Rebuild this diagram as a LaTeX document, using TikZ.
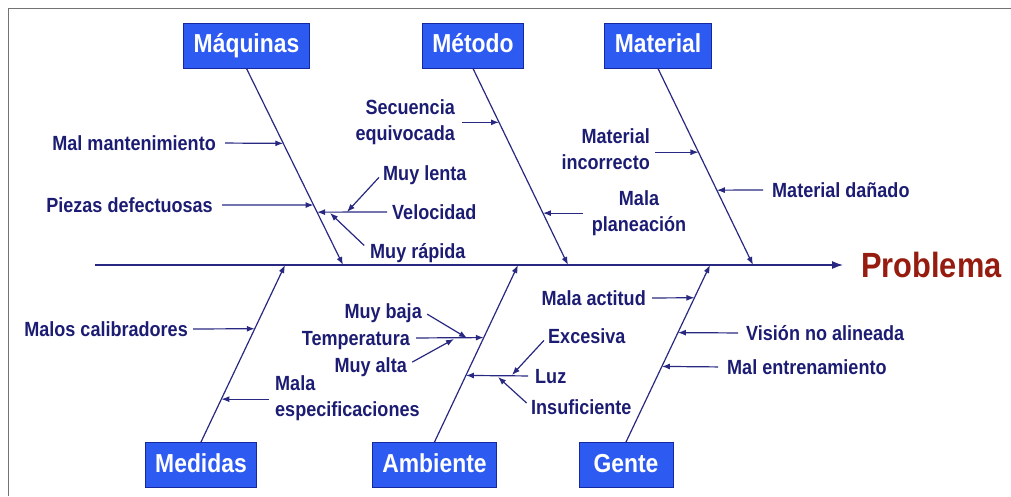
\documentclass[tikz,border=0pt]{standalone}
\usepackage{fontspec}
\setmainfont{Liberation Sans}[FakeStretch=0.88]
\usetikzlibrary{arrows.meta}
\definecolor{navy}{RGB}{28,28,115}
\definecolor{linec}{RGB}{40,40,130}
\definecolor{boxblue}{RGB}{45,90,240}
\definecolor{boxline}{RGB}{20,40,160}
\definecolor{probred}{RGB}{150,28,15}
\definecolor{framec}{RGB}{115,115,115}
\begin{document}
\begin{tikzpicture}[x=1pt,y=-1pt,
  catbox/.style={draw=boxline, fill=boxblue, text=white, line width=1pt,
    font=\bfseries\fontsize{26}{30}\selectfont, inner xsep=10pt, inner ysep=0pt,
    text height=19pt, text depth=5pt, minimum height=45pt},
  lab/.style={text=navy, inner sep=0pt, font=\bfseries\fontsize{20.5}{26.5}\selectfont,
    text height=14pt, text depth=0pt},
  mlab/.style={text=navy, inner sep=0pt, font=\bfseries\fontsize{20.5}{26.5}\selectfont},
  bone/.style={draw=linec, line width=1.2pt, -{Latex[length=8pt,width=6pt]}},
  sub/.style={draw=linec, line width=1.2pt, -{Latex[length=8pt,width=6pt]}}]
\useasboundingbox (0,0) rectangle (1011,496);
\draw[framec, line width=1.5pt] (8.5,496) -- (8.5,8.5) -- (1011,8.5);

% category boxes
\node[catbox] (maq) at (246.5,45.5) {Máquinas};
\node[catbox] (met) at (473,45.5) {Método};
\node[catbox] (mat) at (658,45.5) {Material};
\node[catbox] (med) at (201,465) {Medidas};
\node[catbox] (amb) at (434.5,465) {Ambiente};
\node[catbox, minimum width=94pt] (gen) at (626,465) {Gente};

% spine
\coordinate (sp0) at (95,265);
\coordinate (spE) at (843,265);
\node[anchor=base west, inner sep=0pt, text=probred, font=\bfseries\fontsize{35}{40}\selectfont] (prob) at (861,277) {Problema};
\draw[bone, -{Latex[length=11pt,width=8pt]}] (sp0) -- (spE);

% spine joints
\coordinate (s1) at (343,265);
\coordinate (s2) at (568,265);
\coordinate (s3) at (753,265);
\coordinate (s4) at (285,265);
\coordinate (s5) at (518,265);
\coordinate (s6) at (710,265);

% bones
\draw[bone] (maq.south) -- coordinate[pos=.381] (m1) coordinate[pos=.695] (m2) coordinate[pos=.731] (mv) (s1);
\draw[bone] (met.south) -- coordinate[pos=.274] (me1) coordinate[pos=.736] (me2) (s2);
\draw[bone] (mat.south) -- coordinate[pos=.426] (mt1) coordinate[pos=.619] (mt2) (s3);
\draw[bone] (med.north) -- coordinate[pos=.640] (d1) coordinate[pos=.242] (d2) (s4);
\draw[bone] (amb.north) -- coordinate[pos=.590] (a1) coordinate[pos=.376] (a2) (s5);
\draw[bone] (gen.north) -- coordinate[pos=.815] (g1) coordinate[pos=.618] (g2) coordinate[pos=.427] (g3) (s6);

% Maquinas
\node[lab, anchor=east] (mm) at (216,143) {Mal mantenimiento};
\draw[sub, shorten <=9pt] (mm.east) -- (m1);
\node[lab, anchor=east] (pd) at (213,205) {Piezas defectuosas};
\draw[sub, shorten <=9pt] (pd.east) -- (m2);
\node[lab, anchor=west] (vel) at (392,212) {Velocidad};
\draw[sub, shorten <=5pt] (vel.west) -- (mv);
\coordinate (vl) at (347,212);
\coordinate (vr) at (330,213);
\node[lab, anchor=west] (lenta) at (383,173) {Muy lenta};
\draw[sub, shorten <=6pt] (lenta.west) -- (vl);
\node[lab, anchor=west] (rap) at (370,251) {Muy rápida};
\draw[sub, shorten <=8pt] (rap.west) -- (vr);

% Metodo
\node[mlab, align=right, anchor=north east] (sec) at (455,99) {Secuencia\\equivocada};
\draw[sub, shorten <=7pt] (sec.east |- me1) -- (me1);
\node[mlab, align=center, anchor=north] (pla) at (639,190) {Mala\\planeación};
\draw[sub, shorten <=9pt] (pla.west |- me2) -- (me2);

% Material
\node[mlab, align=right, anchor=north east] (inc) at (650,128) {Material\\incorrecto};
\draw[sub, shorten <=5pt] (inc.east |- mt1) -- (mt1);
\node[lab, anchor=west] (dan) at (772,190) {Material dañado};
\draw[sub, shorten <=9pt] (dan.west) -- (mt2);

% Medidas
\node[lab, anchor=east] (cal) at (188,329) {Malos calibradores};
\draw[sub, shorten <=5pt] (cal.east) -- (d1);
\node[mlab, align=left, anchor=north west] (esp) at (275,375) {Mala\\especificaciones};
\draw[sub, shorten <=6pt] (esp.west |- d2) -- (d2);

% Ambiente
\node[lab, anchor=east] (temp) at (410,338) {Temperatura};
\draw[sub, shorten <=6pt] (temp.east) -- (a1);
\coordinate (tb) at (467,338);
\coordinate (ta) at (454,339);
\node[lab, anchor=east] (baja) at (422,311) {Muy baja};
\draw[sub, shorten <=6pt] (baja.east) -- (tb);
\node[lab, anchor=east] (alta) at (407,365) {Muy alta};
\draw[sub, shorten <=6pt] (alta.east) -- (ta);
\node[lab, anchor=west] (luz) at (535,376) {Luz};
\draw[sub, shorten <=7pt] (luz.west) -- (a2);
\coordinate (lx1) at (512,375);
\coordinate (lx2) at (498,377);
\node[lab, anchor=west] (exc) at (548,336) {Excesiva};
\draw[sub, shorten <=6pt] (exc.west) -- (lx1);
\node[lab, anchor=west] (ins) at (531,407) {Insuficiente};
\draw[sub, shorten <=6pt] (ins.west) -- (lx2);

% Gente
\node[lab, anchor=east] (act) at (646,298) {Mala actitud};
\draw[sub, shorten <=6pt] (act.east) -- (g1);
\node[lab, anchor=west] (vis) at (746,333) {Visión no alineada};
\draw[sub, shorten <=8pt] (vis.west) -- (g2);
\node[lab, anchor=west] (ent) at (727,367) {Mal entrenamiento};
\draw[sub, shorten <=9pt] (ent.west) -- (g3);
\end{tikzpicture}
\end{document}
